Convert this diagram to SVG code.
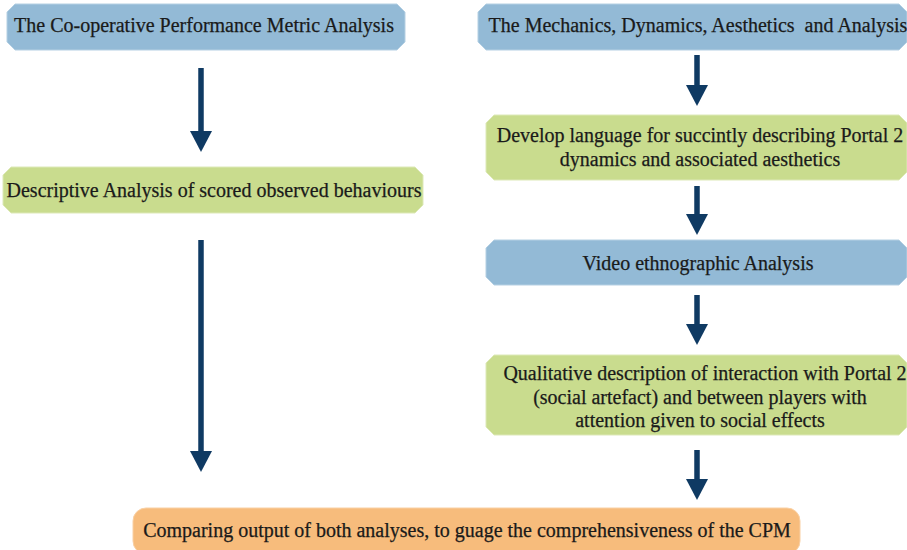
<svg xmlns="http://www.w3.org/2000/svg" width="907" height="550" viewBox="0 0 907 550">
<defs>
<style>
.blue{fill:#93bad6;stroke:#b5d0e3;stroke-width:1}
.green{fill:#c9dc8e;stroke:#dde9b8;stroke-width:1}
.orange{fill:#f7bc7c;stroke:#f9d0a4;stroke-width:1}
.t{font-family:"Liberation Serif","Times New Roman",serif;font-size:20px;fill:#1a1a1a;stroke:#1a1a1a;stroke-width:0.25;text-anchor:middle}
.arr{stroke:#0f3a63;stroke-width:5.5;fill:none}
.head{fill:#0f3a63}
</style>
</defs>
<rect width="907" height="550" fill="#ffffff"/>
<g id="n1">
<path class="blue" d="M15,4 H397 L405,12 V42 L397,50 H15 L7,42 V12 Z"/>
<text class="t" x="204" y="32">The Co-operative Performance Metric Analysis</text>
</g>
<g id="n2">
<path class="blue" d="M486,4 H899 L907,12 V42 L899,50 H486 L478,42 V12 Z"/>
<text class="t" x="698" y="32" xml:space="preserve">The Mechanics, Dynamics, Aesthetics  and Analysis</text>
</g>
<g id="n3">
<path class="green" d="M11,167 H415 L423,175 V205 L415,213 H11 L3,205 V175 Z"/>
<text class="t" x="214" y="197">Descriptive Analysis of scored observed behaviours</text>
</g>
<g id="n4">
<path class="green" d="M494,115 H899 L907,123 V172 L899,180 H494 L486,172 V123 Z"/>
<text class="t" x="700" y="142">Develop language for succintly describing Portal 2</text>
<text class="t" x="700" y="166">dynamics and associated aesthetics</text>
</g>
<g id="n5">
<path class="blue" d="M494,240 H899 L907,248 V277 L899,285 H494 L486,277 V248 Z"/>
<text class="t" x="698" y="270">Video ethnographic Analysis</text>
</g>
<g id="n6">
<path class="green" d="M494,355 H899 L907,363 V427 L899,435 H494 L486,427 V363 Z"/>
<text class="t" x="705" y="380">Qualitative description of interaction with Portal 2</text>
<text class="t" x="700" y="404">(social artefact) and between players with</text>
<text class="t" x="700" y="427">attention given to social effects</text>
</g>
<g id="n7">
<rect class="orange" x="133" y="508" width="667" height="46" rx="13"/>
<text class="t" x="467" y="537">Comparing output of both analyses, to guage the comprehensiveness of the CPM</text>
</g>
<g id="connectors">
<line class="arr" x1="201" y1="68" x2="201" y2="134"/>
<path class="head" d="M190,131 H212 L201,152 Z"/>
<line class="arr" x1="201" y1="240" x2="201" y2="454"/>
<path class="head" d="M190,451 H212 L201,472 Z"/>
<line class="arr" x1="697" y1="55" x2="697" y2="88"/>
<path class="head" d="M686,85 H708 L697,106 Z"/>
<line class="arr" x1="697" y1="186" x2="697" y2="217"/>
<path class="head" d="M686,214 H708 L697,235 Z"/>
<line class="arr" x1="697" y1="295" x2="697" y2="327"/>
<path class="head" d="M686,324 H708 L697,345 Z"/>
<line class="arr" x1="697" y1="450" x2="697" y2="482"/>
<path class="head" d="M686,479 H708 L697,500 Z"/>
</g>
</svg>
